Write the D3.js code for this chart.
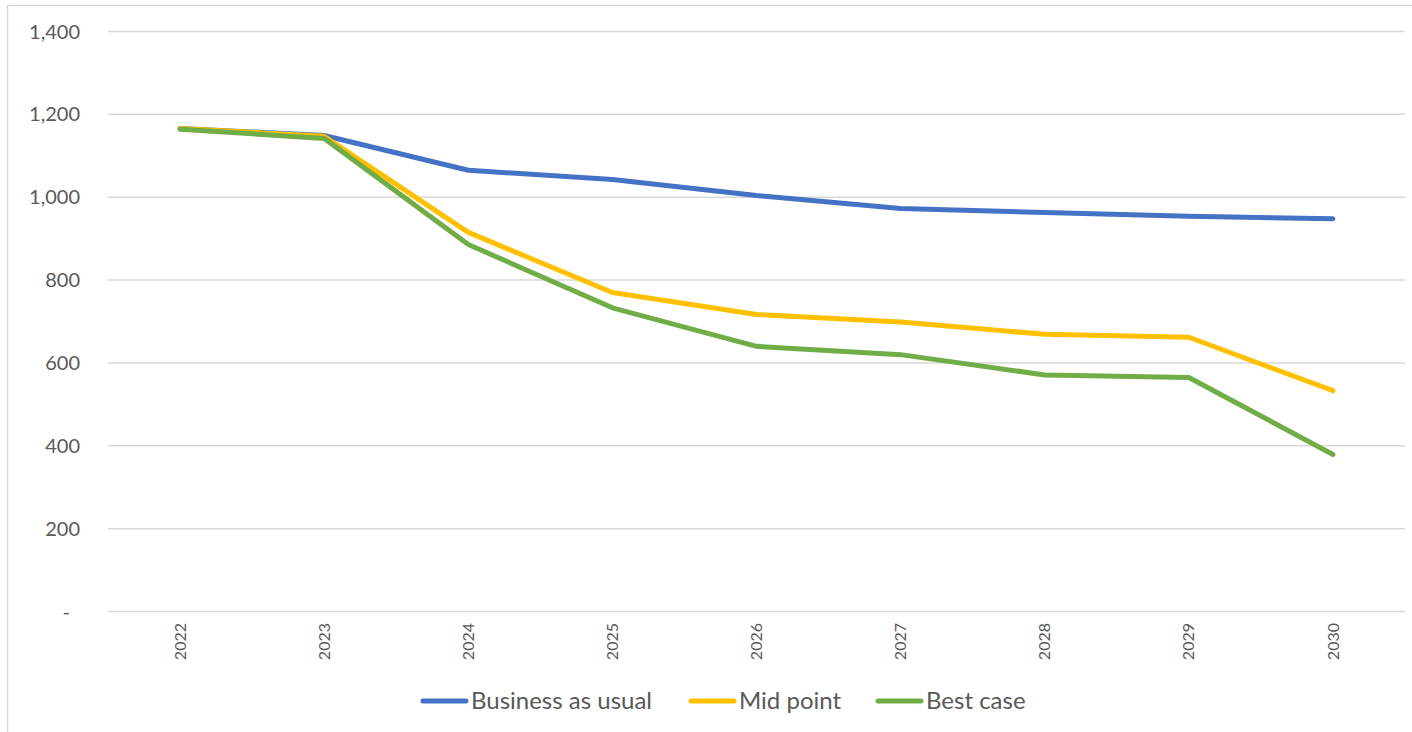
<!DOCTYPE html>
<html>
<head>
<meta charset="utf-8">
<script src="https://cdn.jsdelivr.net/npm/d3@7"></script>
<style>
  html, body { margin: 0; padding: 0; background: #fff; }
  svg { display: block; }
</style>
</head>
<body>
<svg id="chart" width="1412" height="732"></svg>
<script>
// Emissions pathway scenarios, 2022–2030
const years = ["2022", "2023", "2024", "2025", "2026", "2027", "2028", "2029", "2030"];
const businessAsUsual = [1166, 1149, 1065, 1043, 1004, 973, 963, 954, 948];
const midPoint = [1166, 1147, 915, 770, 717, 699, 669, 662, 533];
const bestCase = [1164, 1142, 886, 733, 640, 620, 571, 565, 379];
const seriesNames = ["Business as usual", "Mid point", "Best case"];
const yTicks = [0, 200, 400, 600, 800, 1000, 1200, 1400];

const colors = ["#4472C4", "#FFC000", "#70AD47"];
const font = "Lato, 'Open Sans', sans-serif";
const textColor = "#595959";
const gridColor = "#d9d9d9";

const svg = d3.select("#chart");

// chart area frame
svg.append("rect")
  .attr("x", 7.5).attr("y", 5.5)
  .attr("width", 1420).attr("height", 740)
  .attr("fill", "none")
  .attr("stroke", gridColor)
  .attr("stroke-width", 1.5);

const plot = { left: 108, right: 1405, top: 31.5, bottom: 611.5 };

const x = d3.scaleBand().domain(years).range([plot.left, plot.right]);
const xc = d => x(d) + x.bandwidth() / 2;
const y = d3.scaleLinear().domain([0, 1400]).range([plot.bottom, plot.top]);

// horizontal gridlines
svg.append("g")
  .selectAll("line")
  .data(yTicks)
  .join("line")
  .attr("x1", plot.left).attr("x2", plot.right)
  .attr("y1", d => y(d)).attr("y2", d => y(d))
  .attr("stroke", gridColor)
  .attr("stroke-width", 1.5);

// y-axis labels (zero shown as a dash)
const fmt = d3.format(",");
svg.append("g")
  .selectAll("text")
  .data(yTicks)
  .join("text")
  .attr("x", d => d === 0 ? 70 : 80)
  .attr("y", d => y(d))
  .attr("dy", "0.35em")
  .attr("text-anchor", "end")
  .attr("font-family", font)
  .attr("font-size", 20)
  .attr("fill", textColor)
  .text(d => d === 0 ? "-" : fmt(d));

// x-axis labels, rotated
svg.append("g")
  .selectAll("text")
  .data(years)
  .join("text")
  .attr("transform", d => `translate(${xc(d)},${623}) rotate(-90)`)
  .attr("dy", "0.35em")
  .attr("text-anchor", "end")
  .attr("font-family", font)
  .attr("font-size", 16)
  .attr("fill", textColor)
  .text(d => d);

// scenario lines
const line = d3.line()
  .x((d, i) => xc(years[i]))
  .y(d => y(d));

const allSeries = [businessAsUsual, midPoint, bestCase];
svg.append("g")
  .selectAll("path")
  .data(allSeries)
  .join("path")
  .attr("d", d => line(d))
  .attr("fill", "none")
  .attr("stroke", (d, i) => colors[i])
  .attr("stroke-width", 5)
  .attr("stroke-linejoin", "round")
  .attr("stroke-linecap", "round");

// legend
const legendY = 701;
const legendStarts = [421, 689, 876];
const legend = svg.append("g");
seriesNames.forEach((name, i) => {
  const x0 = legendStarts[i];
  legend.append("line")
    .attr("x1", x0 + 2).attr("x2", x0 + 45)
    .attr("y1", legendY).attr("y2", legendY)
    .attr("stroke", colors[i])
    .attr("stroke-width", 5)
    .attr("stroke-linecap", "round");
  legend.append("text")
    .attr("x", x0 + 50)
    .attr("y", legendY)
    .attr("dy", "0.35em")
    .attr("font-family", font)
    .attr("font-size", 24)
    .attr("fill", textColor)
    .text(name);
});
</script>
</body>
</html>
